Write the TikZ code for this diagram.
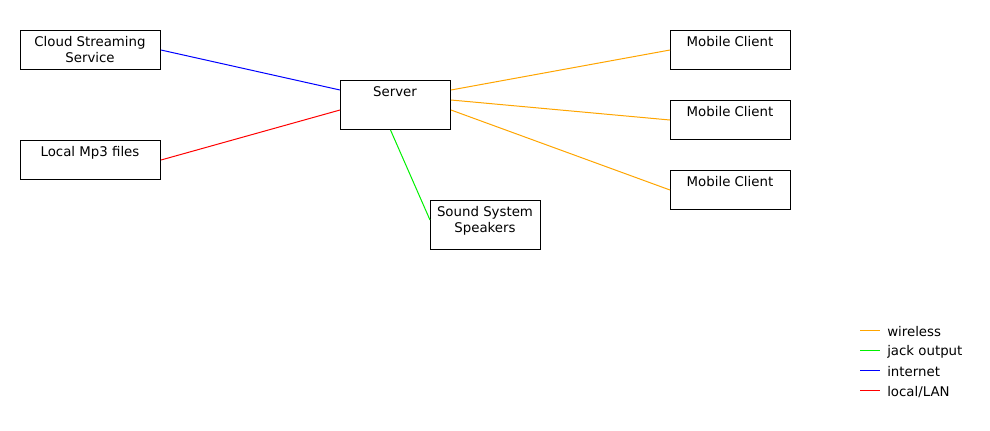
\documentclass[tikz,border=0pt]{standalone}
\usepackage{fontspec}
\setmainfont{DejaVu Sans}
\usetikzlibrary{calc}
\definecolor{cwire}{HTML}{FFA500}
\definecolor{cjack}{HTML}{00F000}
\definecolor{cnet}{HTML}{0000FF}
\definecolor{clan}{HTML}{FF0000}
\tikzset{
  box/.style={draw=black, line width=0.75pt, rectangle, inner sep=0pt, anchor=north west},
  boxtext/.style={anchor=north, inner sep=0pt, align=center, font=\fontsize{10}{12}\selectfont},
  conn/.style={line width=0.75pt},
  legtext/.style={anchor=west, inner sep=0pt, font=\fontsize{10}{12}\selectfont}
}
\begin{document}
\begin{tikzpicture}[x=0.75pt, y=-0.75pt]
\useasboundingbox (0,0) rectangle (990,430);
% boxes
\node[box, minimum width=105pt, minimum height=29.25pt] (cloud) at (20,30) {};
\node[boxtext] (cloudt) at (90,36) {Cloud Streaming\\Service};
\node[box, minimum width=105pt, minimum height=29.25pt] (local) at (20,140) {};
\node[boxtext] (localt) at (90,146) {Local Mp3 files};
\node[box, minimum width=82.5pt, minimum height=36.75pt] (srv) at (340,80) {};
\node[boxtext] (srvt) at (395,86) {Server};
\node[box, minimum width=82.5pt, minimum height=36.75pt] (snd) at (430,200) {};
\node[boxtext] (sndt) at (485,206) {Sound System\\Speakers};
\node[box, minimum width=90pt, minimum height=29.25pt] (m1) at (670,30) {};
\node[boxtext] (m1t) at (730,36) {Mobile Client};
\node[box, minimum width=90pt, minimum height=29.25pt] (m2) at (670,100) {};
\node[boxtext] (m2t) at (730,106) {Mobile Client};
\node[box, minimum width=90pt, minimum height=29.25pt] (m3) at (670,170) {};
\node[boxtext] (m3t) at (730,176) {Mobile Client};
% connectors
\draw[conn, cnet] (cloud.east) -- ([yshift=-7.5pt]srv.north west);
\draw[conn, clan] (local.east) -- ([yshift=-22.5pt]srv.north west);
\draw[conn, cjack] ([xshift=-3.75pt]srv.south) -- ([yshift=-15pt]snd.north west);
\draw[conn, cwire] ([yshift=-7.5pt]srv.north east) -- (m1.west);
\draw[conn, cwire] ([yshift=-15pt]srv.north east) -- (m2.west);
\draw[conn, cwire] ([yshift=-22.5pt]srv.north east) -- (m3.west);
% legend
\coordinate (l1a) at (860,330.5); \coordinate (l1b) at (880,330.5);
\coordinate (l2a) at (860,350.5); \coordinate (l2b) at (880,350.5);
\coordinate (l3a) at (860,370.5); \coordinate (l3b) at (880,370.5);
\coordinate (l4a) at (860,390.5); \coordinate (l4b) at (880,390.5);
\draw[conn, cwire] (l1a) -- (l1b);
\draw[conn, cjack] (l2a) -- (l2b);
\draw[conn, cnet] (l3a) -- (l3b);
\draw[conn, clan] (l4a) -- (l4b);
\node[legtext] (lg1) at (887,332) {wireless};
\node[legtext] (lg2) at (887,352) {jack output};
\node[legtext] (lg3) at (887,372) {internet};
\node[legtext] (lg4) at (887,392) {local/LAN};
\end{tikzpicture}
\end{document}
